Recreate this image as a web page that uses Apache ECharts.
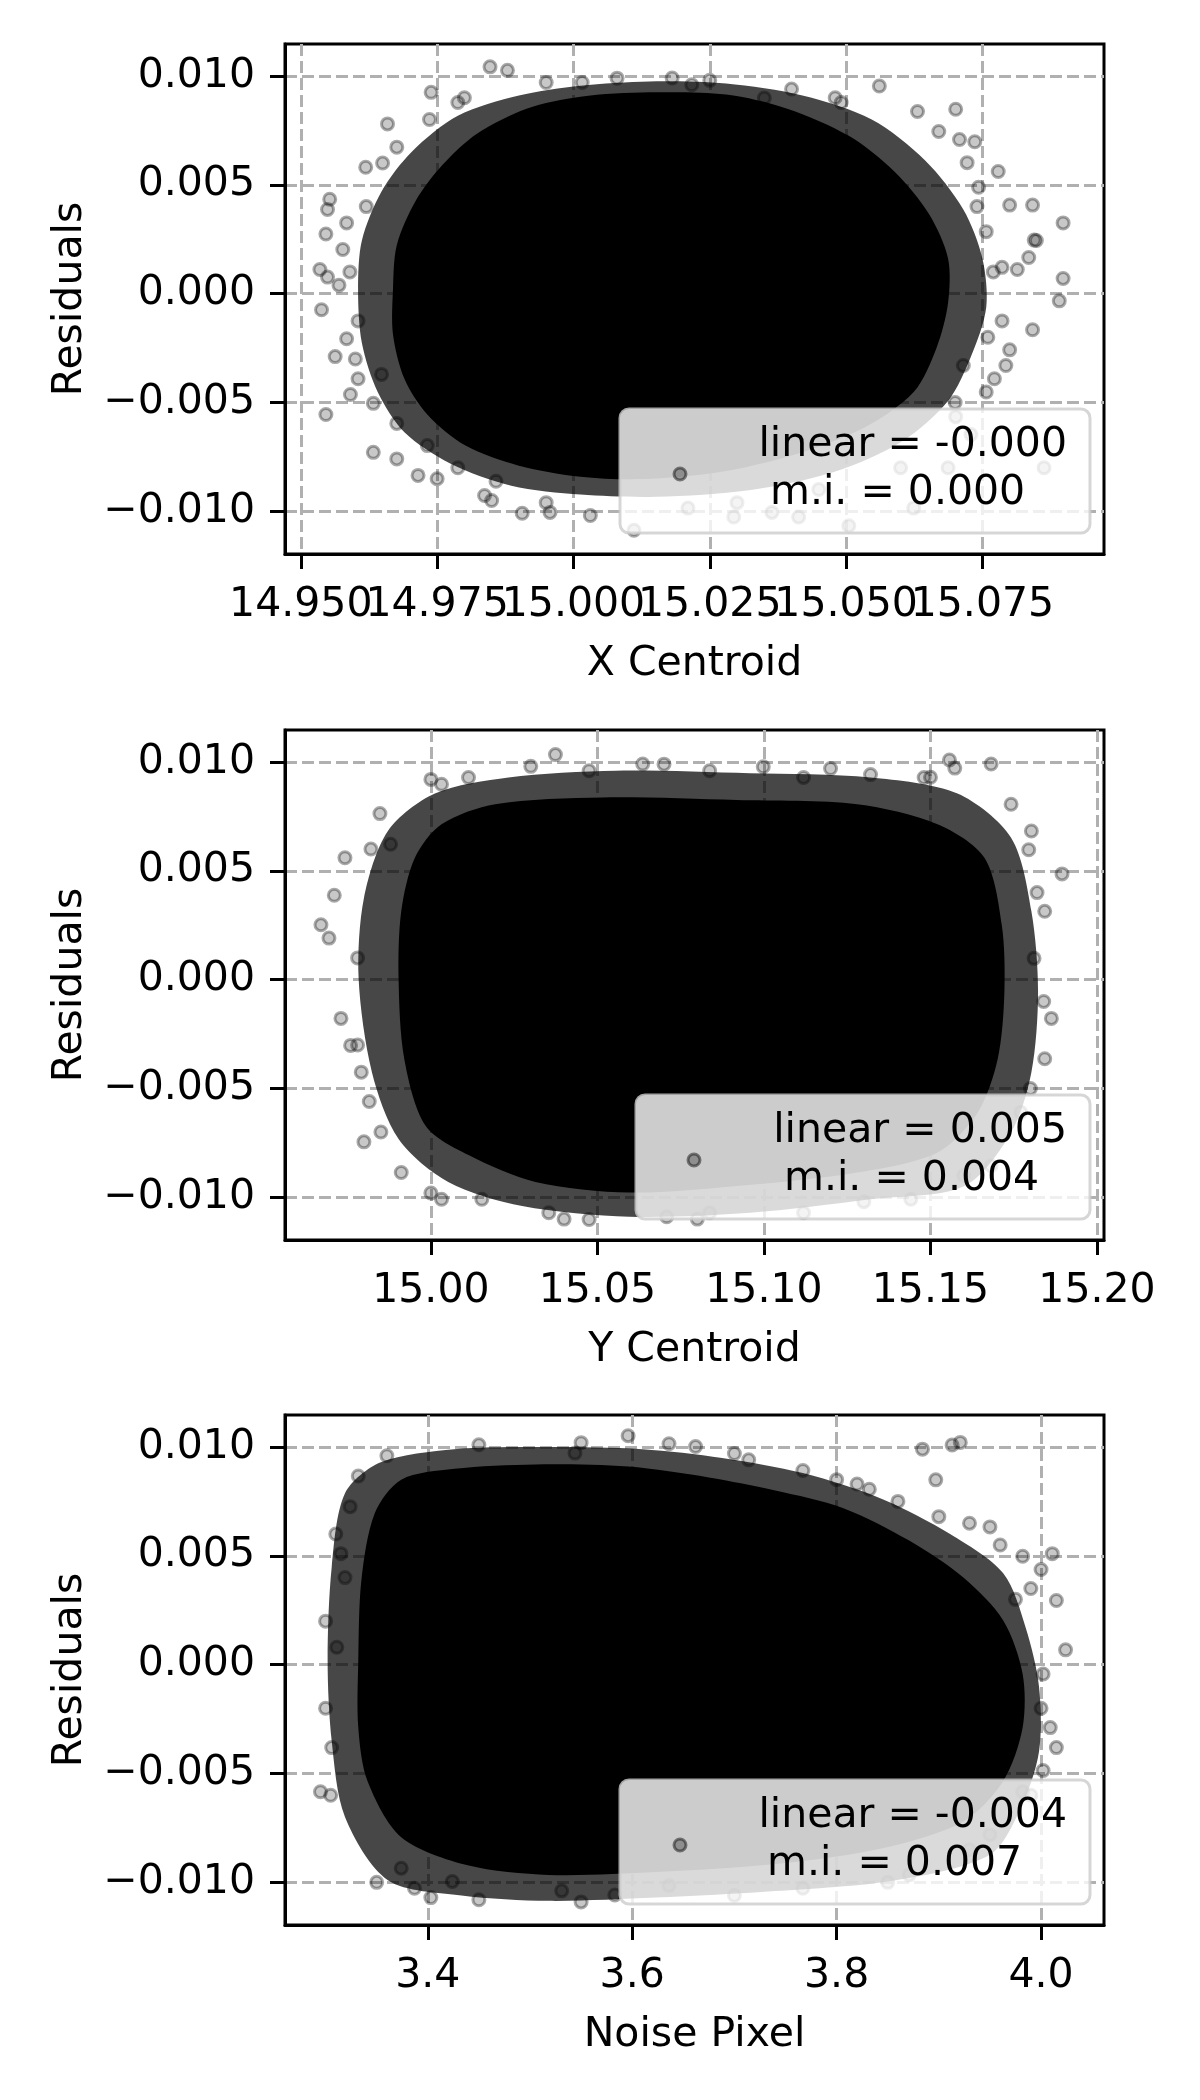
<!DOCTYPE html>
<html><head><meta charset="utf-8">
<script src="https://cdn.jsdelivr.net/npm/echarts@6/dist/echarts.min.js"></script>
<style>html,body{margin:0;padding:0;background:#fff}#c{width:1200px;height:2100px}</style>
</head><body><div id="c"></div><script>
// ---------- data ----------
const xAxisNames = ['X Centroid', 'Y Centroid', 'Noise Pixel'];
const yAxisName = 'Residuals';
const xTicks1 = [14.950, 14.975, 15.000, 15.025, 15.050, 15.075];
const xTicks2 = [15.00, 15.05, 15.10, 15.15, 15.20];
const xTicks3 = [3.4, 3.6, 3.8, 4.0];
const yTicks = [-0.010, -0.005, 0.000, 0.005, 0.010];
const xRange1 = [14.9471, 15.0973];
const xRange2 = [14.9562, 15.2021];
const xRange3 = [3.2603, 4.0616];
const yRange = [-0.01196, 0.01147];
const linearVals = ['-0.000', '0.005', '-0.004'];
const miVals = ['0.000', '0.004', '0.007'];

// dense (saturated) region outlines
const xCore1 = [[14.9669,0.00018],[14.9676,0.00223],[14.9711,0.00428],[14.9760,0.00592],[14.9823,0.00735],[14.9914,0.00850],[15.0013,0.00905],[15.0139,0.00925],[15.0280,0.00915],[15.0392,0.00850],[15.0505,0.00725],[15.0589,0.00560],[15.0652,0.00366],[15.0687,0.00162],[15.0687,-0.00043],[15.0666,-0.00248],[15.0624,-0.00452],[15.0533,-0.00616],[15.0406,-0.00739],[15.0266,-0.00821],[15.0125,-0.00852],[15.0013,-0.00841],[14.9900,-0.00790],[14.9802,-0.00698],[14.9732,-0.00555],[14.9690,-0.00391],[14.9669,-0.00186]];
const xHalo1 = [[14.9605,0.00018],[14.9612,0.00244],[14.9648,0.00469],[14.9704,0.00653],[14.9788,0.00817],[14.9900,0.00910],[15.0013,0.00955],[15.0139,0.00975],[15.0280,0.00965],[15.0420,0.00910],[15.0547,0.00800],[15.0645,0.00612],[15.0715,0.00387],[15.0750,0.00162],[15.0757,-0.00063],[15.0729,-0.00289],[15.0687,-0.00493],[15.0603,-0.00678],[15.0476,-0.00821],[15.0322,-0.00903],[15.0153,-0.00933],[15.0013,-0.00923],[14.9886,-0.00882],[14.9774,-0.00780],[14.9690,-0.00637],[14.9641,-0.00452],[14.9612,-0.00227]];
const xPts1 = [[14.9847,0.01042],[14.9879,0.01026],[14.9739,0.00925],[14.9736,0.0080],[14.9659,0.0078],[14.9619,0.00581],[14.9553,0.00434],[14.9549,0.00387],[14.9584,0.00325],[14.9535,0.00111],[14.9538,-0.00074],[14.9549,0.00076],[14.9570,0.00039],[14.9546,0.00274],[14.9591,-0.00463],[14.9546,-0.00555],[14.9633,-0.00504],[14.9676,-0.00759],[14.9715,-0.00835],[14.9633,-0.00729],[14.9837,-0.00927],[14.9906,-0.01009],[14.9957,-0.01005],[15.0031,-0.01019],[15.0111,-0.01087],[15.0016,0.0097],[15.0181,0.00991],[15.0217,0.0096],[15.0350,0.00899],[15.0561,0.00954],[15.0701,0.00847],[15.0670,0.00745],[15.0708,0.00708],[15.0736,0.00698],[15.0779,0.00561],[15.0722,0.00602],[15.0842,0.00407],[15.0898,0.00325],[15.0800,0.00407],[15.0849,0.00244],[15.0845,0.00246],[15.0835,0.00166],[15.0898,0.0007],[15.0891,-0.00033],[15.0786,0.00121],[15.0814,0.00111],[15.0786,-0.00125],[15.0842,-0.00166],[15.0800,-0.00258],[15.0772,-0.00391],[15.0793,-0.0033],[15.0701,-0.00565],[15.0729,-0.00647],[15.0863,-0.008],[15.0687,-0.008],[15.0624,-0.00985],[15.0505,-0.01066],[15.0413,-0.01026],[15.0210,-0.00985],[15.0294,-0.01026],[15.0364,-0.01005],[14.9577,0.00203],[14.9605,-0.00125],[14.9584,-0.00207],[14.9563,-0.00289],[14.9648,-0.00371],[14.9605,-0.00391],[14.9676,-0.00596],[14.9732,-0.00698],[14.9788,-0.008],[14.9858,-0.00862],[15.0757,0.00285],[15.0743,0.00489],[15.0631,0.00837],[15.0491,0.00878],[14.9788,0.00878],[14.9676,0.00673],[15.0757,-0.00452],[15.0715,-0.0033],
  [14.9800,0.0090],[14.9950,0.0097],[15.0080,0.0099],[15.0250,0.0098],[15.0400,0.0094],[15.0480,0.0090],[14.9590,0.0010],[14.9600,-0.0030],[14.9620,0.0040],[14.9650,0.0060],[15.0740,0.0040],[15.0770,0.0010],[15.0760,-0.0020],[15.0700,-0.0050],[14.9750,-0.0085],[14.9850,-0.0095],[14.9950,-0.0096],[15.0300,-0.0096],[15.0450,-0.0090],[15.0600,-0.0080]];

const yCore2 = [[14.9903,0.00006],[14.9911,0.00314],[14.9952,0.00560],[15.0032,0.00714],[15.0193,0.00806],[15.0515,0.00837],[15.0918,0.00825],[15.1280,0.00806],[15.1521,0.00714],[15.1662,0.00560],[15.1714,0.00252],[15.1722,-0.00055],[15.1702,-0.00363],[15.1642,-0.00609],[15.1521,-0.00794],[15.1280,-0.00886],[15.0918,-0.00948],[15.0596,-0.00978],[15.0314,-0.00929],[15.0113,-0.00806],[14.9984,-0.00671],[14.9920,-0.00363]];
const yHalo2 = [[14.9783,0.00006],[14.9799,0.00375],[14.9871,0.00683],[15.0012,0.00855],[15.0233,0.00929],[15.0555,0.00960],[15.0958,0.00948],[15.1320,0.00929],[15.1581,0.00855],[15.1742,0.00652],[15.1803,0.00314],[15.1823,-0.00055],[15.1803,-0.00425],[15.1742,-0.00702],[15.1602,-0.00948],[15.1320,-0.01009],[15.0958,-0.01071],[15.0596,-0.01089],[15.0274,-0.01040],[15.0052,-0.00929],[14.9903,-0.00732],[14.9823,-0.00425]];
const yPts2 = [[14.9847,0.00763],[14.9879,0.00622],[14.9742,0.0056],[14.9670,0.00252],[14.9694,0.00191],[14.9730,-0.00178],[14.9759,-0.00302],[14.9791,-0.00425],[14.9815,-0.0056],[14.9799,-0.00745],[14.9710,0.00388],[15.0374,0.01034],[15.0475,0.0096],[15.0113,0.00929],[15.0032,0.00898],[15.0837,0.0096],[15.1119,0.00929],[15.1481,0.00929],[15.1557,0.01009],[15.1573,0.00972],[15.1682,0.00991],[15.1803,0.00683],[15.1795,0.00597],[15.1895,0.00486],[15.1843,0.00314],[15.1811,0.00098],[15.1863,-0.00178],[15.1843,-0.00363],[14.9911,-0.00886],[15.0032,-0.01009],[15.0153,-0.01009],[15.0354,-0.01071],[15.0475,-0.01102],[15.0708,-0.01089],[15.0837,-0.01071],[15.0636,0.00991],[15.0998,0.00978],[15.1320,0.00942],[15.1742,0.00806],[15.1771,-0.00609],[15.1119,-0.01071],[15.1441,-0.01009],[15.1682,-0.00855],
  [15.0000,0.0092],[15.0300,0.0098],[15.0700,0.0099],[15.1200,0.0097],[15.1500,0.0093],[14.9780,0.0010],[14.9780,-0.0030],[14.9820,0.0060],[14.9850,-0.0070],[15.1820,0.0040],[15.1840,-0.0010],[15.1800,-0.0050],[15.0000,-0.0098],[15.0400,-0.0110],[15.0800,-0.0110],[15.1300,-0.0102],[15.1600,-0.0090]];

const nCore3 = [[3.332,0.00018],[3.335,0.00387],[3.348,0.00695],[3.374,0.0085],[3.426,0.0090],[3.505,0.0092],[3.596,0.0091],[3.675,0.0086],[3.740,0.0080],[3.806,0.0072],[3.871,0.0057],[3.924,0.0040],[3.963,0.00203],[3.982,-0.00043],[3.982,-0.00289],[3.963,-0.00535],[3.924,-0.0072],[3.845,-0.00843],[3.740,-0.00916],[3.623,-0.00953],[3.518,-0.00966],[3.439,-0.00922],[3.374,-0.00793],[3.341,-0.00535],[3.332,-0.00289]];
const nHalo3 = [[3.302,0.00018],[3.306,0.00449],[3.319,0.00787],[3.354,0.00930],[3.426,0.00990],[3.518,0.01000],[3.610,0.00990],[3.688,0.00950],[3.767,0.00880],[3.845,0.00760],[3.911,0.00600],[3.963,0.00420],[3.985,0.00170],[3.998,-0.00100],[3.998,-0.00400],[3.980,-0.00660],[3.950,-0.00873],[3.858,-0.00990],[3.740,-0.01040],[3.623,-0.01070],[3.518,-0.01085],[3.433,-0.01060],[3.361,-0.00990],[3.319,-0.00700],[3.306,-0.00351]];
const nPts3 = [[3.295,-0.00584],[3.306,-0.00381],[3.315,0.0051],[3.319,0.004],[3.324,0.00726],[3.311,0.0008],[3.332,0.00867],[3.596,0.01052],[3.544,0.00972],[3.636,0.01015],[3.662,0.01002],[3.714,0.00941],[3.767,0.00892],[3.832,0.00806],[3.884,0.0099],[3.913,0.01009],[3.921,0.01021],[3.897,0.00849],[3.950,0.00633],[3.982,0.00498],[4.000,0.00437],[4.011,0.0051],[4.015,0.00295],[4.024,0.00068],[4.002,-0.00043],[4.009,-0.00289],[4.015,-0.00381],[4.002,-0.00486],[3.982,-0.00584],[3.374,-0.00935],[3.387,-0.01027],[3.403,-0.0107],[3.424,-0.00996],[3.531,-0.01039],[3.583,-0.01058],[3.636,-0.01015],[3.767,-0.01027],[3.871,-0.00966],[3.950,-0.00781],[3.80,0.0085],[3.86,0.0075],[3.93,0.0065],[3.96,0.0055],[3.99,0.0035],
  [3.36,0.0096],[3.45,0.0101],[3.55,0.0102],[3.70,0.0097],[3.82,0.0083],[3.90,0.0068],[3.300,0.0020],[3.300,-0.0020],[3.305,-0.0060],[3.310,0.0060],[3.975,0.0030],[4.000,-0.0020],[3.990,-0.0060],[3.35,-0.0100],[3.45,-0.0108],[3.55,-0.0109],[3.70,-0.0106],[3.85,-0.0100],[3.93,-0.0085]];

// ---------- layout / style ----------
const F = 'DejaVu Sans';
const FS = 41;
const tops = [44, 730, 1415];
const panels = [
  {range: xRange1, ticks: xTicks1, dec: 3, core: xCore1, halo: xHalo1, pts: xPts1, boxX: 620, mk: 680, t2: 770},
  {range: xRange2, ticks: xTicks2, dec: 2, core: yCore2, halo: yHalo2, pts: yPts2, boxX: 636, mk: 694, t2: 784},
  {range: xRange3, ticks: xTicks3, dec: 1, core: nCore3, halo: nHalo3, pts: nPts3, boxX: 620, mk: 680, t2: 767}
];
function fmt(v, d) { return (v < -1e-12 ? '\u2212' : '') + Math.abs(v).toFixed(d); }
const txt = {fontFamily: F, fontSize: FS, color: '#000'};
const lblBase = {interval: 0, margin: 31, hideOverlap: false, showMinLabel: true, showMaxLabel: true};

const grids = [], xAxes = [], yAxes = [], series = [], graphics = [];
const extraX = [];
panels.forEach((p, i) => {
  grids.push({left: 285, top: tops[i], width: 819, height: 510, show: true, borderColor: '#000', borderWidth: 3,
    backgroundColor: 'rgba(0,0,0,0)', containLabel: false, outerBoundsMode: 'none'});
  // the overlapping labels of the first panel are split over two label rows sharing the same place,
  // so that the library does not drop any of them
  const labA = i === 0 ? p.ticks.filter((_, k) => k % 2 === 0) : p.ticks;
  const labB = i === 0 ? p.ticks.filter((_, k) => k % 2 === 1) : null;
  xAxes.push({type: 'value', gridIndex: i, position: 'bottom', offset: 0, min: p.range[0], max: p.range[1],
    name: xAxisNames[i], nameLocation: 'middle', nameGap: 90, nameTextStyle: txt,
    axisLine: {show: true, onZero: false, lineStyle: {color: '#000', width: 3}},
    axisTick: {show: true, length: 15, interval: 0, lineStyle: {color: '#000', width: 3}, customValues: p.ticks},
    axisLabel: Object.assign({customValues: labA, formatter: v => fmt(v, p.dec)}, lblBase, txt),
    splitLine: {show: true, lineStyle: {color: '#b0b0b0', width: 3, type: [12, 5]}}});
  if (labB) {
    extraX.push({type: 'value', gridIndex: i, position: 'bottom', offset: 0, min: p.range[0], max: p.range[1],
      axisLine: {show: false, onZero: false}, axisTick: {show: false}, splitLine: {show: false},
      axisLabel: Object.assign({customValues: labB, formatter: v => fmt(v, p.dec)}, lblBase, txt)});
  }
  yAxes.push({type: 'value', gridIndex: i, min: yRange[0], max: yRange[1],
    name: yAxisName, nameLocation: 'middle', nameGap: 194, nameTextStyle: txt,
    axisLine: {show: true, onZero: false, lineStyle: {color: '#000', width: 3}},
    axisTick: {show: true, length: 15, interval: 0, lineStyle: {color: '#000', width: 3}, customValues: yTicks},
    axisLabel: Object.assign({customValues: yTicks, formatter: v => fmt(v, 3)}, lblBase, {margin: 30}, txt),
    splitLine: {show: true, lineStyle: {color: '#b0b0b0', width: 3, type: [12, 5]}}});
  const poly = (data, fill, z) => ({type: 'custom', xAxisIndex: i, yAxisIndex: i, clip: true, silent: true, z: z,
    data: data, encode: {x: 0, y: 1},
    renderItem: (params, api) => {
      if (params.dataIndex !== 0) return null;
      return {type: 'polygon', shape: {points: data.map(d => api.coord(d)), smooth: 0.3},
        style: {fill: fill}};
    }});
  series.push(poly(p.halo, 'rgba(0,0,0,0.72)', 2));
  series.push(poly(p.core, '#000', 3));
  series.push({type: 'scatter', xAxisIndex: i, yAxisIndex: i, data: p.pts, symbolSize: 12, silent: true, z: 4,
    itemStyle: {color: 'rgba(0,0,0,0.27)', borderColor: 'rgba(0,0,0,0.42)', borderWidth: 3}});
  const t = tops[i];
  graphics.push({type: 'rect', z: 100, shape: {x: p.boxX, y: t + 365, width: 1090 - p.boxX, height: 124, r: 9},
    style: {fill: 'rgba(255,255,255,0.8)', stroke: 'rgba(204,204,204,0.8)', lineWidth: 3}});
  graphics.push({type: 'circle', z: 101, shape: {cx: p.mk, cy: t + 430, r: 6},
    style: {fill: 'rgba(0,0,0,0.3)', stroke: 'rgba(0,0,0,0.45)', lineWidth: 3}});
  graphics.push({type: 'text', z: 101, style: {x: 1067, y: t + 401, text: 'linear = ' + linearVals[i],
    font: FS + 'px "' + F + '"', fill: '#000', textAlign: 'right', textVerticalAlign: 'middle'}});
  graphics.push({type: 'text', z: 101, style: {x: p.t2, y: t + 449, text: 'm.i. = ' + miVals[i],
    font: FS + 'px "' + F + '"', fill: '#000', textAlign: 'left', textVerticalAlign: 'middle'}});
});
extraX.forEach(a => xAxes.push(a));

const chart = echarts.init(document.getElementById('c'), null, {renderer: 'canvas'});
chart.setOption({backgroundColor: '#fff', animation: false, grid: grids, xAxis: xAxes, yAxis: yAxes,
  series: series, graphic: graphics});
</script></body></html>
